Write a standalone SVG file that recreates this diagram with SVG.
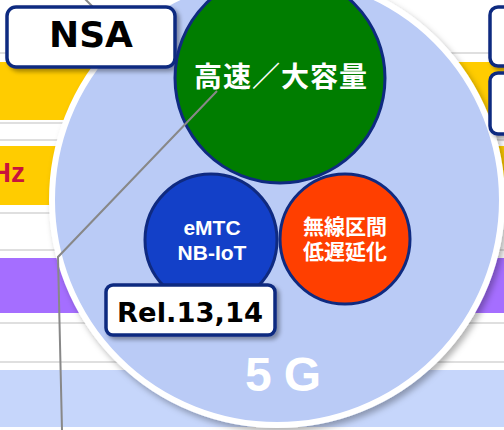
<svg xmlns="http://www.w3.org/2000/svg" width="504" height="430" viewBox="0 0 504 430">
<defs>
<filter id="sh" x="-20%" y="-20%" width="150%" height="150%">
<feDropShadow dx="3" dy="3" stdDeviation="2" flood-color="#000" flood-opacity="0.35"/>
</filter>
<filter id="shc" x="-10%" y="-10%" width="130%" height="130%">
<feDropShadow dx="3" dy="4" stdDeviation="3" flood-color="#000" flood-opacity="0.3"/>
</filter>
</defs>
<style>
.gl{stroke:#D4D4D4;stroke-width:1.5}
.box{fill:#FFFFFF;stroke:#0F2A80;stroke-width:3.5}
.lab{font-family:"DejaVu Sans","Liberation Sans",sans-serif;font-weight:bold;fill:#000;text-anchor:middle}
.wt{font-family:"Liberation Sans","Noto Sans CJK JP",sans-serif;font-weight:bold;fill:#FFFFFF;text-anchor:middle}
.sc{stroke:#0F2A80;stroke-width:3}
</style>
<g id="background">
<rect x="0" y="0" width="504" height="430" fill="#FFFFFF"/>
<line class="gl" x1="0" y1="53" x2="504" y2="53"/>
<rect x="0" y="62" width="504" height="58" fill="#FFCC00"/>
<line class="gl" x1="0" y1="123" x2="504" y2="123"/>
<line class="gl" x1="0" y1="140" x2="504" y2="140"/>
<rect x="0" y="146" width="504" height="59" fill="#FFCC00"/>
<text x="25" y="182" font-family="Liberation Sans,sans-serif" font-weight="bold" font-size="28" fill="#C8143C" text-anchor="end">Hz</text>
<line class="gl" x1="0" y1="213" x2="504" y2="213"/>
<line class="gl" x1="0" y1="250" x2="504" y2="250"/>
<rect x="0" y="258" width="504" height="55" fill="#A56EFF"/>
<line class="gl" x1="0" y1="323" x2="504" y2="323"/>
<line class="gl" x1="0" y1="362" x2="504" y2="362"/>
<rect x="0" y="370" width="504" height="57" fill="#C6D6FB"/>
</g>
<g id="top-line">
<line x1="84" y1="-2" x2="96" y2="10" stroke="#888" stroke-width="2"/>
</g>
<g id="g5">
<circle cx="277" cy="200" r="225" fill="#BACBF6" stroke="#FFFFFF" stroke-width="6" filter="url(#shc)"/>
<text x="245" y="391" font-family="Liberation Sans,sans-serif" font-weight="bold" font-size="48" fill="#FFFFFF" letter-spacing="12">5G</text>
</g>
<g id="right-boxes">
<rect class="box" x="490" y="7" width="40" height="59" rx="8" filter="url(#sh)"/>
<rect class="box" x="490" y="73" width="40" height="61" rx="8" filter="url(#sh)"/>
</g>
<g id="nsa">
<rect class="box" x="7" y="7" width="168" height="60" rx="9" filter="url(#sh)"/>
<text class="lab" x="91" y="47" font-size="36">NSA</text>
</g>
<g id="embb">
<circle class="sc" cx="280" cy="78" r="105" fill="#007D00"/>
<text class="wt" x="281" y="87" font-size="28" letter-spacing="1">高速／大容量</text>
</g>
<g id="mmtc">
<circle class="sc" cx="211" cy="240" r="66" fill="#1340C8"/>
<text class="wt" x="212" y="235" font-size="21">eMTC</text>
<text class="wt" x="212" y="260" font-size="21">NB-IoT</text>
</g>
<g id="urllc">
<circle class="sc" cx="345" cy="239" r="65" fill="#FF3F00"/>
<text class="wt" x="345" y="234" font-size="21">無線区間</text>
<text class="wt" x="345" y="259" font-size="21">低遅延化</text>
</g>
<g id="connectors">
<polyline points="217,91 58,257 62,430" fill="none" stroke="#888888" stroke-width="2"/>
</g>
<g id="rel">
<rect class="box" x="106" y="285" width="169" height="50" rx="7" filter="url(#sh)"/>
<text class="lab" x="190" y="322" font-size="27" textLength="146" lengthAdjust="spacingAndGlyphs">Rel.13,14</text>
</g>
</svg>
